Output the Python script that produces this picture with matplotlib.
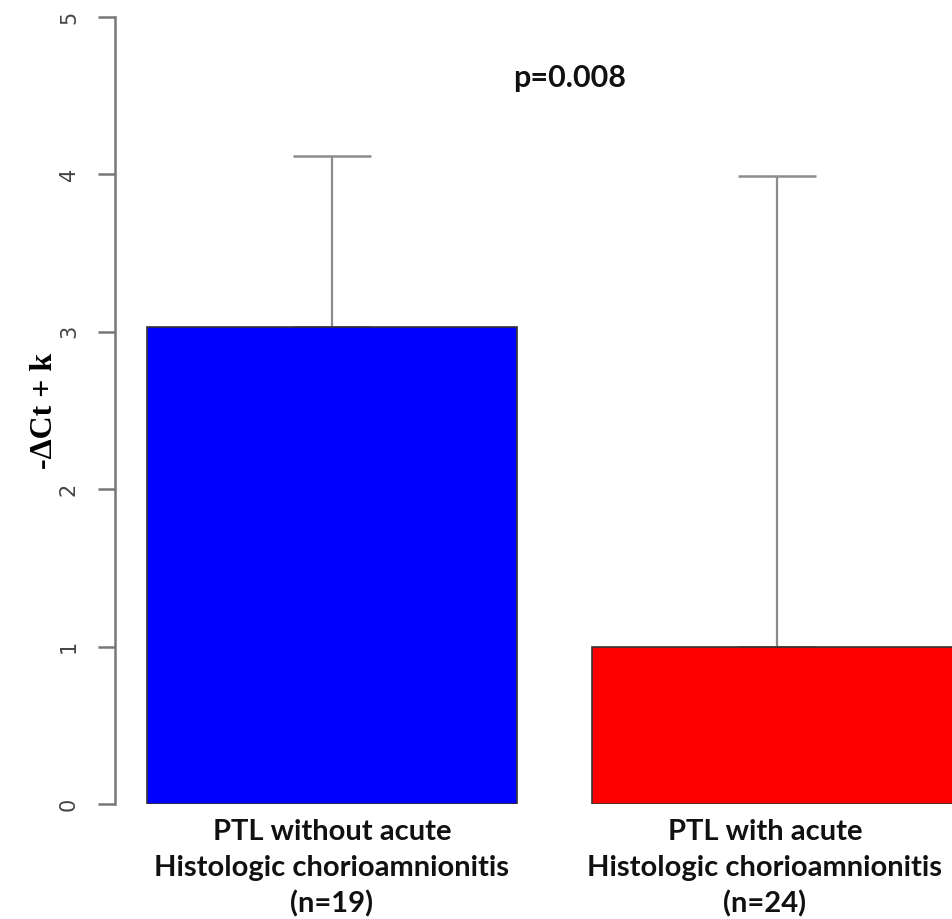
import matplotlib.pyplot as plt
import matplotlib.transforms as mtransforms
import numpy as np

groups = ['PTL without acute\nHistologic chorioamnionitis\n(n=19)',
          'PTL with acute\nHistologic chorioamnionitis\n(n=24)']
means = np.array([3.03, 1.00])
upper = np.array([4.12, 3.99])
colors = ['#0000FF', '#FF0000']
yticks = [0, 1, 2, 3, 4, 5]

fig = plt.figure(figsize=(9.53, 9.19), dpi=100)
ax = fig.add_axes([115 / 953, 115 / 919, 1 - 115 / 953, (804 - 17) / 919])

x = np.arange(len(means))
ax.bar(x, means, width=0.83, color=colors, edgecolor='#333333', linewidth=1.2, zorder=2)
ax.errorbar(x, means, yerr=[np.zeros_like(means), upper - means], fmt='none',
            ecolor='#8c8c8c', elinewidth=1.6, capsize=28, capthick=1.8, zorder=1)

ax.set_xlim(-0.4876, 1.3955)
ax.set_ylim(0, 5)
for s in ['top', 'right', 'bottom']:
    ax.spines[s].set_visible(False)
ax.spines['left'].set_color('#777777')
ax.spines['left'].set_linewidth(1.8)
ax.spines['left'].set_bounds(0, 5)

ax.set_yticks(yticks)
ax.set_yticklabels([str(t) for t in yticks], rotation=90, va='center',
                   fontsize=15, color='#444444')
ax.tick_params(axis='y', length=12, width=1.8, color='#777777', pad=14)
ax.set_xticks(x)
ax.set_xticklabels(groups, fontsize=21, fontweight='bold', family='Lato',
                   linespacing=1.45, color='#111111')
ax.tick_params(axis='x', length=0, pad=11)
# second label sits a little left of its bar in the original
lab = ax.get_xticklabels()[1]
lab.set_transform(lab.get_transform() +
                  mtransforms.ScaledTranslation(-0.12, 0, fig.dpi_scale_trans))

ax.set_ylabel('-ΔCt + k', fontsize=23, fontweight='bold', family='Liberation Serif',
              labelpad=0)

ax.text(0.533, 4.61, 'p=0.008', ha='center', va='center', fontsize=22,
        fontweight='bold', family='Lato', color='#111111')

fig.savefig('out.png', dpi=100)
